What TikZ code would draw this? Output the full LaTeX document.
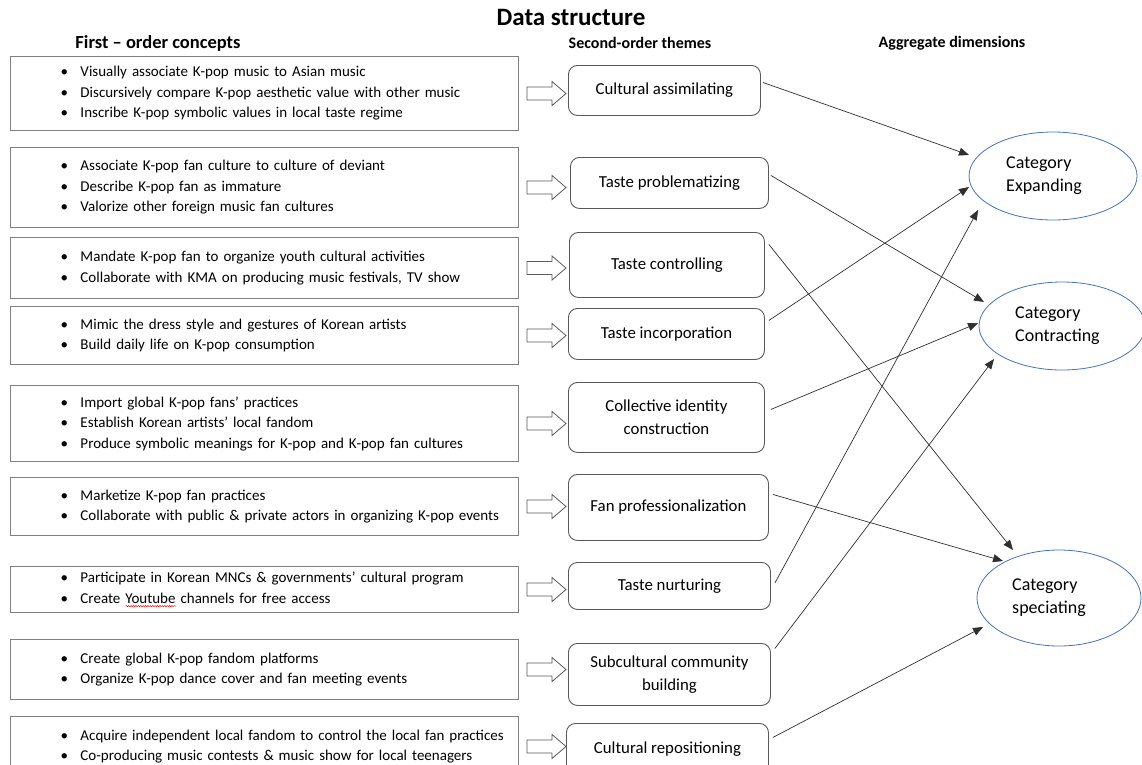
\documentclass[tikz,border=0pt]{standalone}
\usepackage{fontspec}
\setmainfont{Carlito}
\usetikzlibrary{arrows.meta,calc,shapes.geometric,decorations.pathmorphing}
\definecolor{boxgray}{HTML}{808080}
\definecolor{rgray}{HTML}{595959}
\definecolor{ellblue}{HTML}{4472C4}
\definecolor{linegray}{HTML}{303030}
\newcommand{\itm}[1]{\hspace*{50pt}\makebox[20pt][l]{\textbullet}#1}
\newsavebox{\sperrbox}
\newcommand{\sperr}[1]{\sbox{\sperrbox}{#1}\rlap{\tikz[baseline=0pt]\draw[red, line width=0.5pt, decorate, decoration={snake, amplitude=0.6pt, segment length=2.4pt}] (0pt,-3pt) -- (\wd\sperrbox,-3pt);}#1}
\begin{document}
\begin{tikzpicture}[x=1pt,y=-1pt,
  lbox/.style={draw=boxgray, line width=1pt, text width=508pt, inner xsep=0pt, inner ysep=0pt,
    align=left, anchor=north west, font=\fontsize{15}{20.5}\selectfont},
  tbox/.style={draw=rgray, line width=0.9pt, rounded corners=9pt, align=center, inner sep=0pt,
    anchor=north west, font=\fontsize{16.8}{22.5}\selectfont},
  cat/.style={draw=ellblue, line width=0.8pt, ellipse, inner sep=0pt},
  cattext/.style={anchor=west, align=left, inner sep=0pt, font=\fontsize{18}{23}\selectfont},
  head/.style={font=\bfseries\fontsize{16}{18}\selectfont, inner sep=0pt},
  conn/.style={draw=linegray, line width=0.7pt, -{Triangle[length=10pt,width=8pt]}},
  barrow/.pic={\draw[draw=rgray, line width=0.8pt, fill=white]
     (0,-6.5) -- (25,-6.5) -- (25,-12) -- (39,0) -- (25,12) -- (25,6.5) -- (0,6.5) -- cycle;}
]
\useasboundingbox (0,0) rectangle (1142,764);
\fill[white] (0,0) rectangle (1142,764);

% titles
\node[font=\bfseries\fontsize{25}{28}\selectfont, inner sep=0pt] (title) at (571,17) {Data structure};
\node[head, font=\bfseries\fontsize{18.5}{20}\selectfont] (h1) at (158,43) {First -- order concepts};
\node[head] (h2) at (640,43) {Second-order themes};
\node[head] (h3) at (952,43) {Aggregate dimensions};

% first-order boxes
\node[lbox, minimum height=74pt] (L1) at (10,56) {\itm{Visually associate K-pop music to Asian music}\\\itm{Discursively compare K-pop aesthetic value with other music}\\\itm{Inscribe K-pop symbolic values in local taste regime}};
\node[lbox, minimum height=80pt] (L2) at (10,147) {\itm{Associate K-pop fan culture to culture of deviant}\\\itm{Describe K-pop fan as immature}\\\itm{Valorize other foreign music fan cultures}};
\node[lbox, minimum height=61pt] (L3) at (10,237) {\itm{Mandate K-pop fan to organize youth cultural activities}\\\itm{Collaborate with KMA on producing music festivals, TV show}};
\node[lbox, minimum height=58pt] (L4) at (10,306) {\itm{Mimic the dress style and gestures of Korean artists}\\\itm{Build daily life on K-pop consumption}};
\node[lbox, minimum height=76pt] (L5) at (10,385) {\itm{Import global K-pop fans’ practices}\\\itm{Establish Korean artists’ local fandom}\\\itm{Produce symbolic meanings for K-pop and K-pop fan cultures}};
\node[lbox, minimum height=58pt] (L6) at (10,477) {\itm{Marketize K-pop fan practices}\\\itm{Collaborate with public \& private actors in organizing K-pop events}};
\node[lbox, minimum height=46pt] (L7) at (10,566) {\itm{Participate in Korean MNCs \& governments’ cultural program}\\\itm{Create \sperr{Youtube} channels for free access}};
\node[lbox, minimum height=60pt] (L8) at (10,639) {\itm{Create global K-pop fandom platforms}\\\itm{Organize K-pop dance cover and fan meeting events}};
\node[lbox, minimum height=60pt] (L9) at (10,716) {\itm{Acquire independent local fandom to control the local fan practices}\\\itm{Co-producing music contests \& music show for local teenagers}};

% second-order themes
\node[tbox, minimum width=192pt, minimum height=50pt] (B1) at (568,65) {Cultural assimilating};
\node[tbox, minimum width=198pt, minimum height=51pt] (B2) at (570,157) {Taste problematizing};
\node[tbox, minimum width=195pt, minimum height=65pt] (B3) at (569,232) {Taste controlling};
\node[tbox, minimum width=196pt, minimum height=51pt] (B4) at (568,308) {Taste incorporation};
\node[tbox, minimum width=196pt, minimum height=70pt] (B5) at (568,382) {Collective identity\\construction};
\node[tbox, minimum width=200pt, minimum height=66pt] (B6) at (568,474) {Fan professionalization};
\node[tbox, minimum width=202pt, minimum height=47pt] (B7) at (568,562) {Taste nurturing};
\node[tbox, minimum width=202pt, minimum height=62pt] (B8) at (568,643) {Subcultural community\\building};
\node[tbox, minimum width=202pt, minimum height=52pt] (B9) at (566,723) {Cultural repositioning};

% block arrows
\foreach \i in {1,...,9} {\pic (A\i) at ([xshift=8pt]L\i.east) {barrow};}

% aggregate dimensions
\node[cat, minimum width=168pt, minimum height=88pt] (E1) at (1053,176) {};
\node[cat, minimum width=166pt, minimum height=88pt] (E2) at (1062,326) {};
\node[cat, minimum width=164pt, minimum height=96pt] (E3) at (1059,598) {};
\node[cattext] (E1t) at ([xshift=-47pt]E1.center) {Category\\Expanding};
\node[cattext] (E2t) at ([xshift=-47pt]E2.center) {Category\\Contracting};
\node[cattext] (E3t) at ([xshift=-47pt]E3.center) {Category\\speciating};

% connectors
\draw[conn] ([shift={(2,-8)}]B1.east) -- ([shift={(-84,-21)}]E1.center);
\draw[conn] ([shift={(2,-7.5)}]B2.east) -- ([shift={(-78,-24)}]E2.center);
\draw[conn] ([shift={(4,-20.5)}]B3.east) -- ([shift={(-46,-48)}]E3.center);
\draw[conn] ([shift={(4,-13.5)}]B4.east) -- ([shift={(-84,11)}]E1.center);
\draw[conn] ([shift={(6,-8)}]B5.east) -- ([shift={(-84,-3)}]E2.center);
\draw[conn] ([shift={(4,-13)}]B6.east) -- ([shift={(-56,-37)}]E3.center);
\draw[conn] ([shift={(4,-3)}]B7.east) -- ([shift={(-75,34)}]E1.center);
\draw[conn] ([shift={(4,-26)}]B8.east) -- ([shift={(-68,33)}]E2.center);
\draw[conn] ([shift={(4,-12)}]B9.east) -- ([shift={(-76,29)}]E3.center);
\end{tikzpicture}
\end{document}
